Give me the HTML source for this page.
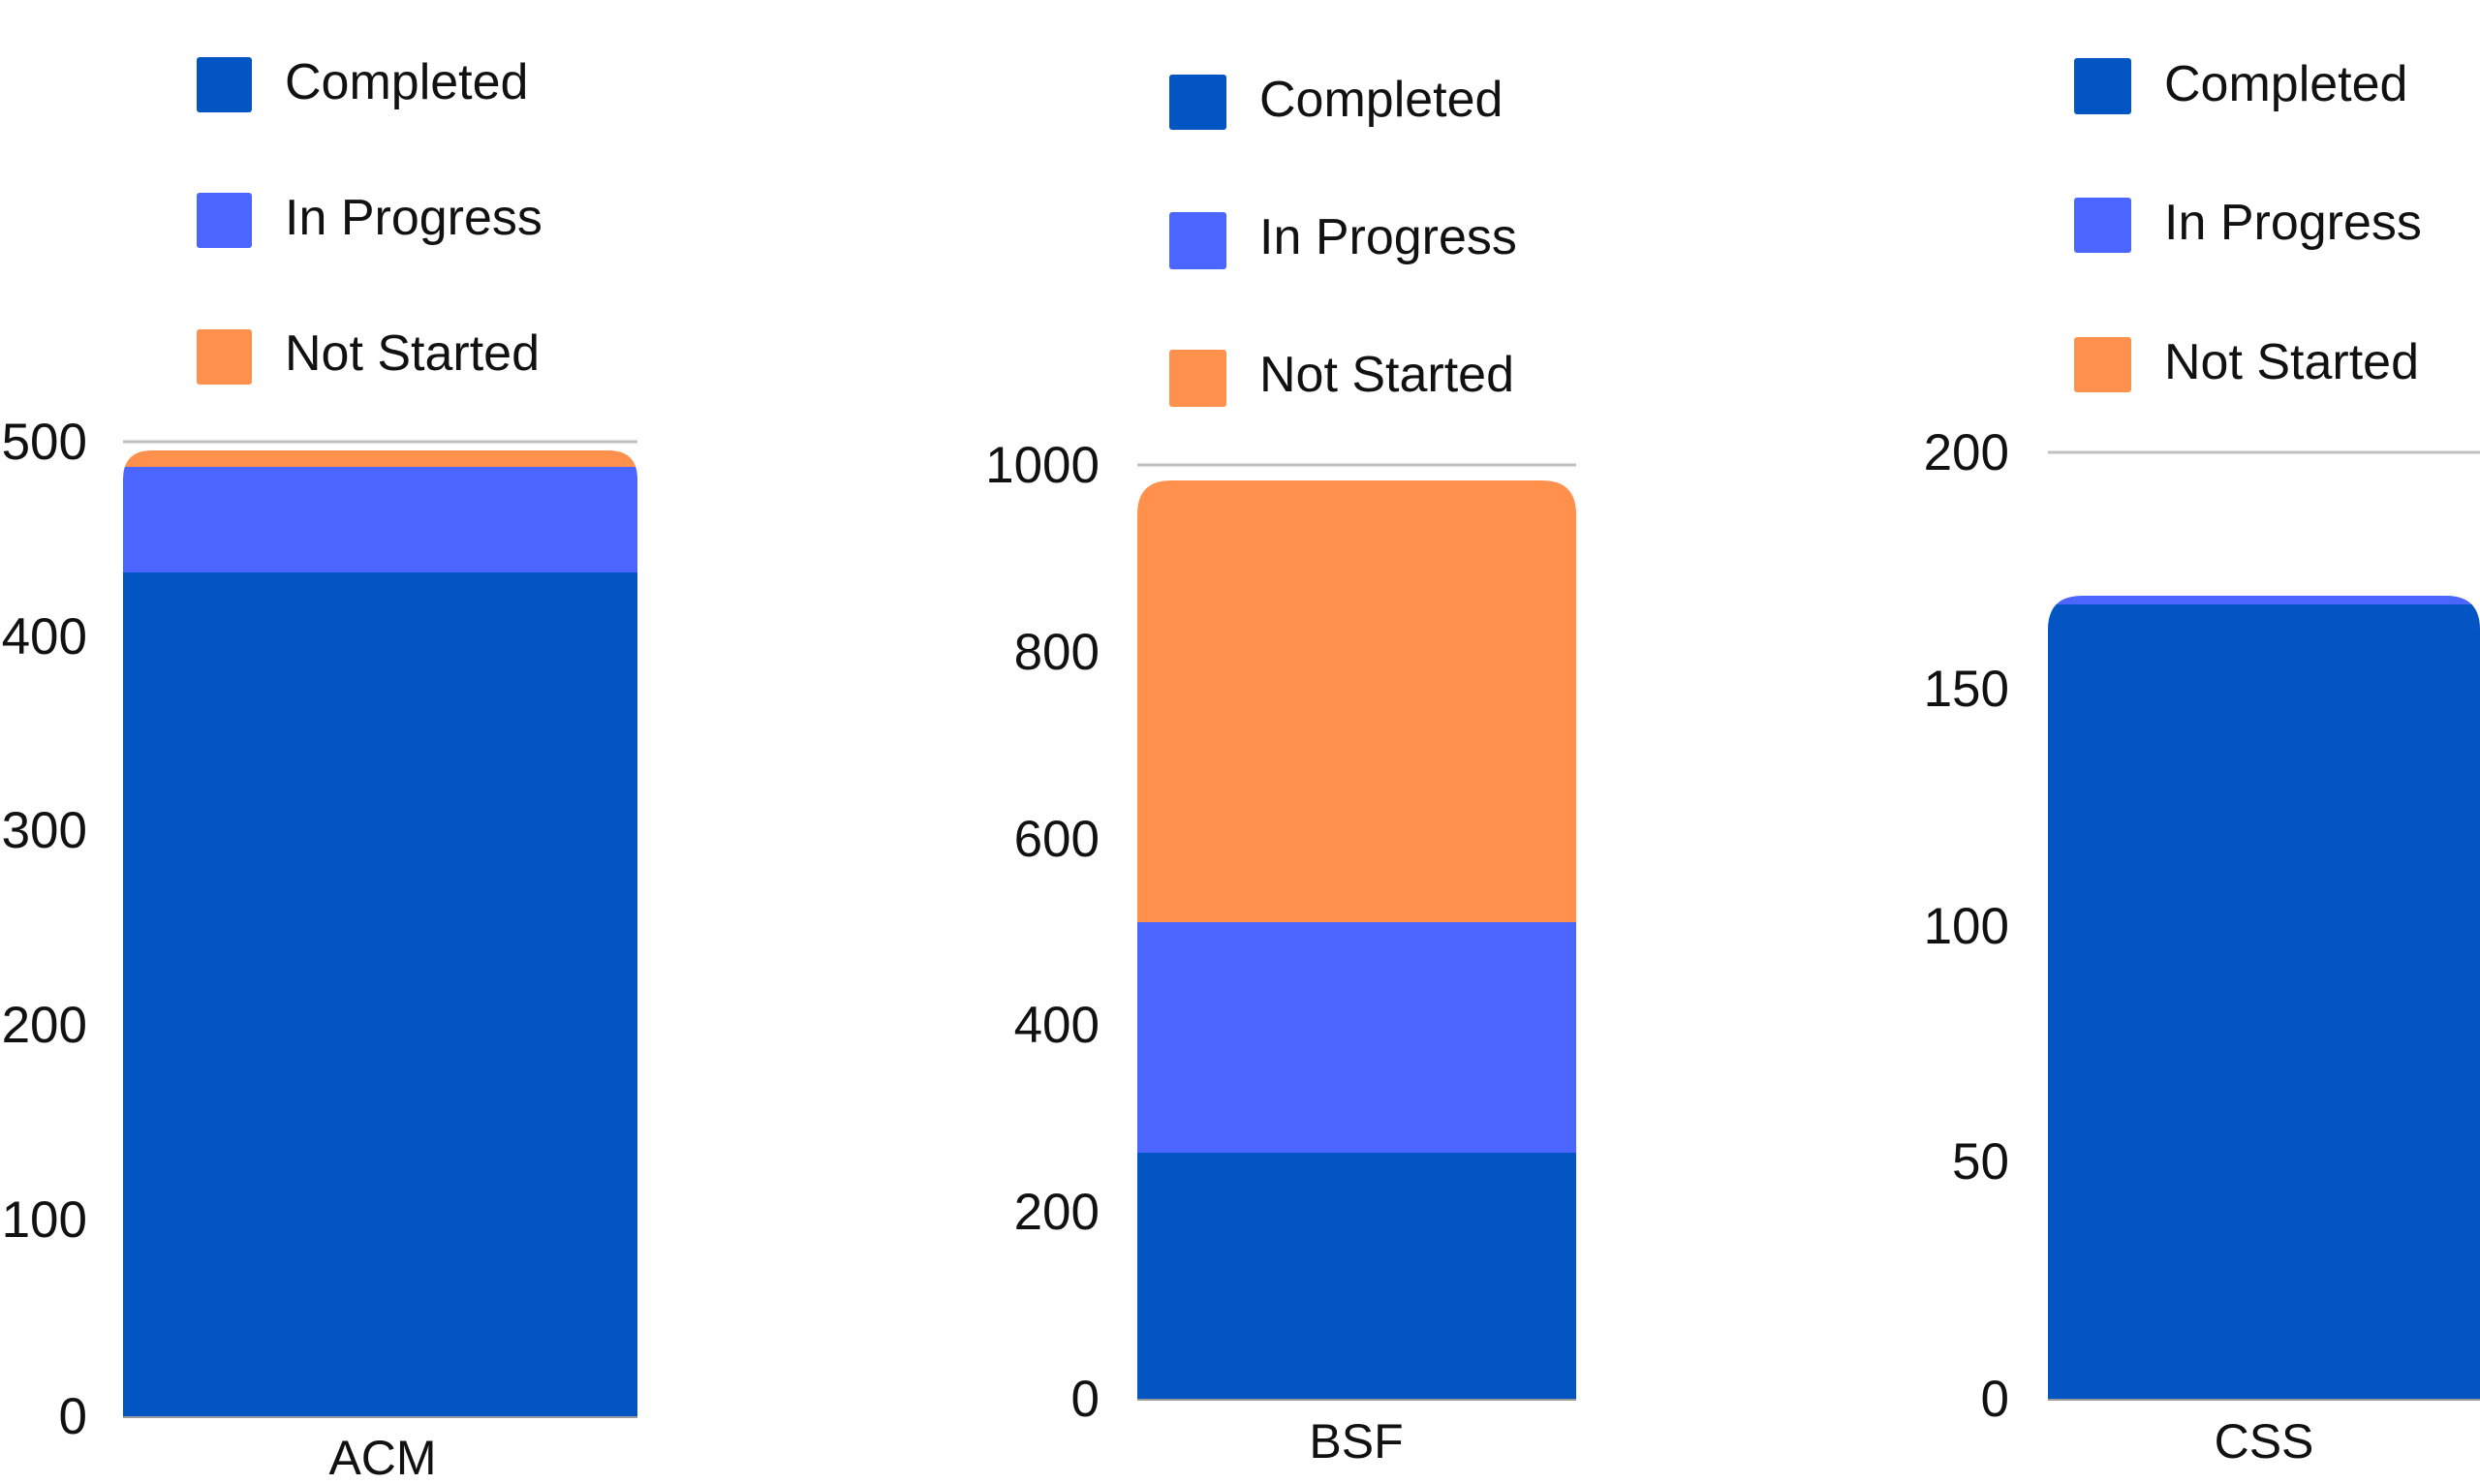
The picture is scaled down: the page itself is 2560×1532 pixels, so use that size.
<!DOCTYPE html>
<html><head><meta charset="utf-8"><style>
html,body{margin:0;padding:0;background:#fff;}
svg{display:block;}
text{font-family:"Liberation Sans",sans-serif;fill:#111;}
</style></head><body>
<svg width="2560" height="1532" viewBox="0 0 2560 1532" xmlns="http://www.w3.org/2000/svg">
<defs>
<clipPath id="c1"><path d="M127,1462 V495 Q127,465 157,465 H628 Q658,465 658,495 V1462 Z"/></clipPath>
<clipPath id="c2"><path d="M1174,1444 V531 Q1174,496 1209,496 H1592 Q1627,496 1627,531 V1444 Z"/></clipPath>
<clipPath id="c3"><path d="M2114,1444 V650 Q2114,615 2149,615 H2525 Q2560,615 2560,650 V1444 Z"/></clipPath>
</defs>
<!-- Chart 1 -->
<g font-size="52">
<rect x="203" y="59" width="57" height="57" rx="3" fill="#0255C3"/>
<rect x="203" y="199" width="57" height="57" rx="3" fill="#4A66FF"/>
<rect x="203" y="340" width="57" height="57" rx="3" fill="#FF914D"/>
<text x="294" y="102">Completed</text>
<text x="294" y="242">In Progress</text>
<text x="294" y="382">Not Started</text>
</g>
<line x1="127" y1="456" x2="658" y2="456" stroke="#c0c0c0" stroke-width="3"/>
<g font-size="53" text-anchor="end">
<text x="90" y="474">500</text>
<text x="90" y="675">400</text>
<text x="90" y="875">300</text>
<text x="90" y="1076">200</text>
<text x="90" y="1277">100</text>
<text x="90" y="1480">0</text>
</g>
<g clip-path="url(#c1)">
<rect x="127" y="465" width="531" height="17" fill="#FF914D"/>
<rect x="127" y="482" width="531" height="110" fill="#4A66FF"/>
<rect x="127" y="591" width="531" height="871" fill="#0255C3"/>
</g>
<line x1="127" y1="1463" x2="658" y2="1463" stroke="#999" stroke-width="2"/>
<text x="395" y="1522" font-size="50" text-anchor="middle">ACM</text>

<!-- Chart 2 -->
<g font-size="52">
<rect x="1207" y="77" width="59" height="57" rx="3" fill="#0255C3"/>
<rect x="1207" y="219" width="59" height="59" rx="3" fill="#4A66FF"/>
<rect x="1207" y="361" width="59" height="59" rx="3" fill="#FF914D"/>
<text x="1300" y="120">Completed</text>
<text x="1300" y="262">In Progress</text>
<text x="1300" y="404">Not Started</text>
</g>
<line x1="1174" y1="480" x2="1627" y2="480" stroke="#c0c0c0" stroke-width="3"/>
<g font-size="53" text-anchor="end">
<text x="1135" y="498">1000</text>
<text x="1135" y="691">800</text>
<text x="1135" y="884">600</text>
<text x="1135" y="1076">400</text>
<text x="1135" y="1269">200</text>
<text x="1135" y="1462">0</text>
</g>
<g clip-path="url(#c2)">
<rect x="1174" y="496" width="453" height="456" fill="#FF914D"/>
<rect x="1174" y="952" width="453" height="239" fill="#4A66FF"/>
<rect x="1174" y="1190" width="453" height="254" fill="#0255C3"/>
</g>
<line x1="1174" y1="1445" x2="1627" y2="1445" stroke="#999" stroke-width="2"/>
<text x="1400" y="1505" font-size="50" text-anchor="middle">BSF</text>

<!-- Chart 3 -->
<g font-size="52">
<rect x="2141" y="60" width="59" height="58" rx="3" fill="#0255C3"/>
<rect x="2141" y="204" width="59" height="57" rx="3" fill="#4A66FF"/>
<rect x="2141" y="348" width="59" height="57" rx="3" fill="#FF914D"/>
<text x="2234" y="104">Completed</text>
<text x="2234" y="247">In Progress</text>
<text x="2234" y="391">Not Started</text>
</g>
<line x1="2114" y1="467" x2="2560" y2="467" stroke="#c0c0c0" stroke-width="3"/>
<g font-size="53" text-anchor="end">
<text x="2074" y="485">200</text>
<text x="2074" y="729">150</text>
<text x="2074" y="974">100</text>
<text x="2074" y="1217">50</text>
<text x="2074" y="1462">0</text>
</g>
<g clip-path="url(#c3)">
<rect x="2114" y="615" width="446" height="10" fill="#4A66FF"/>
<rect x="2114" y="624" width="446" height="820" fill="#0255C3"/>
</g>
<line x1="2114" y1="1445" x2="2560" y2="1445" stroke="#999" stroke-width="2"/>
<text x="2337" y="1505" font-size="50" text-anchor="middle">CSS</text>
</svg>
</body></html>
